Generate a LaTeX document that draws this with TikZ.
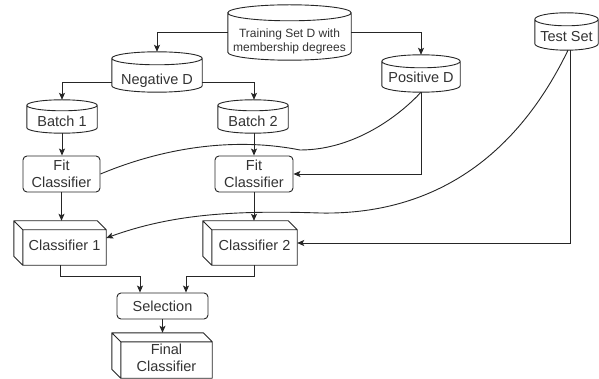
\documentclass[tikz,border=0pt]{standalone}
\usepackage{fontspec}
\setmainfont{Liberation Sans}
\usetikzlibrary{arrows.meta,calc}

\newcommand\cyltext[2]{\raisebox{#1pt}[\height][\depth]{#2}}
\newcommand\cubetext[3]{\raisebox{#2pt}[\height][\depth]{\hspace*{#1pt}\begin{tabular}{@{}c@{}}#3\end{tabular}}}

% cylinder outline around a node: #1 node name, #2 half height of the top ellipse
\newcommand\drawcyl[2]{%
  \draw[shapeline] let \p1=(#1.north west), \p2=(#1.south east), \n1={(\x2-\x1)/2} in
    (\x1,\y1-#2pt) -- (\x1,\y2+#2pt)
    arc[start angle=180,end angle=360,x radius=\n1,y radius=#2pt]
    -- (\x2,\y1-#2pt)
    arc[start angle=0,end angle=180,x radius=\n1,y radius=#2pt]
    arc[start angle=180,end angle=360,x radius=\n1,y radius=#2pt];}

% cube outline around a node: #1 node name, #2 depth
\newcommand\drawcube[2]{%
  \draw[shapeline,line join=round] let \p1=(#1.north west), \p2=(#1.south east) in
    (\x1,\y1) -- (\x2-#2pt,\y1) -- (\x2,\y1-#2pt) -- (\x2,\y2) -- (\x1+#2pt,\y2) -- (\x1,\y2+#2pt) -- cycle
    (\x1,\y1) -- (\x1+#2pt,\y1-#2pt) -- (\x2,\y1-#2pt)
    (\x1+#2pt,\y1-#2pt) -- (\x1+#2pt,\y2);}

\tikzset{
  shapeline/.style={draw=black!85, line width=0.9pt},
  box/.style={inner sep=0pt, text=black!80},
  rbox/.style={draw=black!85, line width=0.9pt, rounded corners=4pt, inner sep=0pt, text=black!80, align=center},
  arr/.style={draw=black!85, line width=0.9pt, -{Stealth[length=7pt,width=6pt,inset=1.5pt]}},
  conn/.style={draw=black!85, line width=0.9pt},
}

\begin{document}
\begin{tikzpicture}[x=1pt,y=1pt,font=\fontsize{14.5}{17}\selectfont]
\fill[white] (0,0) rectangle (599,-379);
\useasboundingbox (0,0) rectangle (599,-379);

% cylinders
\node[box, minimum width=123pt, minimum height=55pt] (train) at (289.5,-32.5)
  {\fontsize{12}{14}\selectfont\cyltext{-9}{\begin{tabular}{@{}c@{}}Training Set D with\\membership degrees\end{tabular}}};
\node[box, minimum width=90pt, minimum height=40pt] (negd) at (157,-72) {\cyltext{-9}{Negative D}};
\node[box, minimum width=78pt, minimum height=37pt] (posd) at (421,-73.5) {\cyltext{-4}{Positive D}};
\node[box, minimum width=63pt, minimum height=37pt] (test) at (566.5,-31.5) {\cyltext{-5.5}{Test Set}};
\node[box, minimum width=70pt, minimum height=33pt] (b1) at (62,-116.5) {\cyltext{-5}{Batch 1}};
\node[box, minimum width=70pt, minimum height=33pt] (b2) at (253,-116.5) {\cyltext{-5}{Batch 2}};
\drawcyl{train}{8}
\drawcyl{negd}{6.5}
\drawcyl{posd}{6.5}
\drawcyl{test}{6.5}
\drawcyl{b1}{5.5}
\drawcyl{b2}{5.5}

% rounded boxes
\node[rbox, minimum width=77pt, minimum height=36pt] (fit1) at (61.5,-174) {Fit\\Classifier};
\node[rbox, minimum width=78pt, minimum height=36pt] (fit2) at (254,-174) {Fit\\Classifier};
\node[rbox, minimum width=91pt, minimum height=26pt] (sel) at (162.5,-306) {Selection};

% cubes
\node[box, minimum width=92pt, minimum height=44pt] (c1) at (60,-243) {\cubetext{9}{-4.5}{Classifier 1}};
\node[box, minimum width=94pt, minimum height=44pt] (c2) at (250,-243) {\cubetext{9}{-4.5}{Classifier 2}};
\node[box, minimum width=100pt, minimum height=45pt] (fin) at (162,-355.5) {\cubetext{9}{-4.5}{Final\\Classifier}};
\drawcube{c1}{9}
\drawcube{c2}{9}
\drawcube{fin}{9}

% connectors
\draw[arr] (train.west) -| (negd.north);
\draw[arr] (train.east) -| (posd.north);
\draw[arr] ([yshift=-10pt]negd.west) -| (b1.north);
\draw[arr] ([yshift=-10pt]negd.east) -| ([xshift=1pt]b2.north);
\draw[arr] (b1.south) -- (b1.south |- fit1.north);
\draw[arr] ([xshift=1pt]b2.south) -- ([xshift=1pt]b2.south |- fit2.north);
\draw[arr] (posd.south) |- (fit2.east);
\draw[conn] (posd.south) .. controls (400,-115) and (355,-150) .. (300,-150)
  .. controls (240,-138) and (170,-145) .. (fit1.east);
\draw[arr] (fit1.south) -- (fit1.south |- c1.north);
\draw[arr] (fit2.south) -- (fit2.south |- c2.north);
\draw[arr] ([xshift=3.5pt]test.south) |- (c2.east);
\draw[arr] ([xshift=1.5pt]test.south) .. controls (510,-170) and (420,-215) .. (320,-213)
  .. controls (230,-210) and (170,-215) .. ([yshift=5pt]c1.east);
\draw[arr] (c1.south) -- ++(0,-11) -| ([xshift=-22.5pt]sel.north);
\draw[arr] (c2.south -| fit2.south) -- ++(0,-11) -| ([xshift=23.5pt]sel.north);
\draw[arr] (sel.south) -- (sel.south |- fin.north);
\end{tikzpicture}
\end{document}
